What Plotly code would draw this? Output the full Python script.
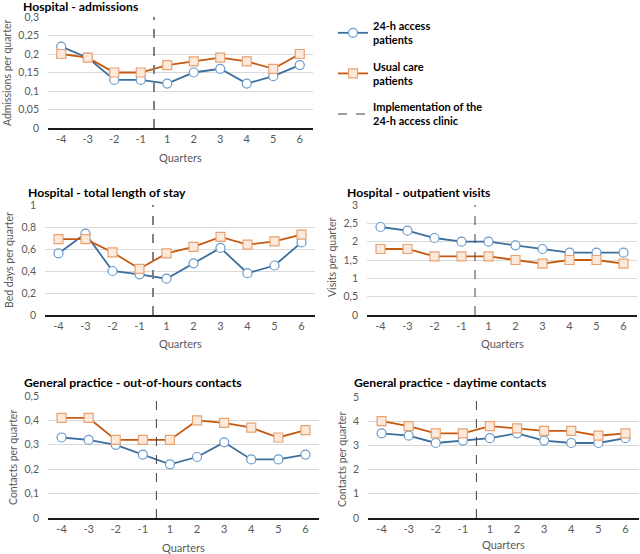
import plotly.graph_objects as go

quarters = ["-4", "-3", "-2", "-1", "1", "2", "3", "4", "5", "6"]

adm_access = [0.22, 0.19, 0.13, 0.13, 0.12, 0.15, 0.16, 0.12, 0.14, 0.17]
adm_usual = [0.20, 0.19, 0.15, 0.15, 0.17, 0.18, 0.19, 0.18, 0.16, 0.20]

los_access = [0.56, 0.74, 0.40, 0.37, 0.33, 0.47, 0.61, 0.38, 0.45, 0.66]
los_usual = [0.69, 0.69, 0.57, 0.42, 0.56, 0.62, 0.71, 0.64, 0.67, 0.73]

out_access = [2.4, 2.3, 2.1, 2.0, 2.0, 1.9, 1.8, 1.7, 1.7, 1.7]
out_usual = [1.8, 1.8, 1.6, 1.6, 1.6, 1.5, 1.4, 1.5, 1.5, 1.4]

ooh_access = [0.33, 0.32, 0.30, 0.26, 0.22, 0.25, 0.31, 0.24, 0.24, 0.26]
ooh_usual = [0.41, 0.41, 0.32, 0.32, 0.32, 0.40, 0.39, 0.37, 0.33, 0.36]

day_access = [3.5, 3.4, 3.1, 3.2, 3.3, 3.5, 3.2, 3.1, 3.1, 3.3]
day_usual = [4.0, 3.8, 3.5, 3.5, 3.8, 3.7, 3.6, 3.6, 3.4, 3.5]

adm_ticks = [0, 0.05, 0.1, 0.15, 0.2, 0.25, 0.3]
adm_ticktext = ["0", "0,05", "0,1", "0,15", "0,2", "0,25", "0,3"]
los_ticks = [0, 0.2, 0.4, 0.6, 0.8, 1]
los_ticktext = ["0", "0,2", "0,4", "0,6", "0,8", "1"]
out_ticks = [0, 0.5, 1, 1.5, 2, 2.5, 3]
out_ticktext = ["0", "0,5", "1", "1,5", "2", "2,5", "3"]
ooh_ticks = [0, 0.1, 0.2, 0.3, 0.4, 0.5]
ooh_ticktext = ["0", "0,1", "0,2", "0,3", "0,4", "0,5"]
day_ticks = [0, 1, 2, 3, 4, 5]
day_ticktext = ["0", "1", "2", "3", "4", "5"]

titles = ["Hospital - admissions", "Hospital - total length of stay",
          "Hospital - outpatient visits", "General practice - out-of-hours contacts",
          "General practice - daytime contacts"]
ytitles = ["Admissions per quarter", "Bed days per quarter", "Visits per quarter",
           "Contacts per quarter", "Contacts per quarter"]
series_names = ["24-h access<br>patients", "Usual care<br>patients",
                "Implementation of the<br>24-h access clinic"]

W, H = 640, 554
FONT = "Lato, Open Sans, sans-serif"
BLUE = "#3C6E9E"
ORANGE = "#C55A11"

panels = [
    dict(a=adm_access, u=adm_usual, tv=adm_ticks, tt=adm_ticktext, px=(48, 313), py=(17, 128),
         dc="#808080", dw=2, t=(21, 6.5), yt=(7, 73), q=157),
    dict(a=los_access, u=los_usual, tv=los_ticks, tt=los_ticktext, px=(45, 315), py=(205, 315),
         dc="#808080", dw=2, t=(26, 192), yt=(9, 260), q=343),
    dict(a=out_access, u=out_usual, tv=out_ticks, tt=out_ticktext, px=(367, 637), py=(205, 315),
         dc="#404040", dw=1, t=(345, 192), yt=(332, 258), q=343),
    dict(a=ooh_access, u=ooh_usual, tv=ooh_ticks, tt=ooh_ticktext, px=(48, 319), py=(396, 518),
         dc="#404040", dw=1, t=(22, 382), yt=(13, 458), q=547),
    dict(a=day_access, u=day_usual, tv=day_ticks, tt=day_ticktext, px=(368, 639), py=(397, 518),
         dc="#404040", dw=1, t=(352, 382), yt=(342, 460), q=544),
]

fig = go.Figure()
annotations = []
shapes = []
for i, p in enumerate(panels):
    n = "" if i == 0 else str(i + 1)
    xa, ya = "x" + n, "y" + n
    first = i == 0
    fig.add_trace(go.Scatter(
        x=quarters, y=p["a"], xaxis=xa, yaxis=ya, mode="lines+markers",
        name="<b>" + series_names[0] + "</b>", showlegend=first, legendgroup="a",
        line=dict(color=BLUE, width=1.8), cliponaxis=False,
        marker=dict(symbol="circle", size=9, color="white", line=dict(color="#6A9ACB", width=1.2))))
    fig.add_trace(go.Scatter(
        x=quarters, y=p["u"], xaxis=xa, yaxis=ya, mode="lines+markers",
        name="<b>" + series_names[1] + "</b>", showlegend=first, legendgroup="b",
        line=dict(color=ORANGE, width=1.8), cliponaxis=False,
        marker=dict(symbol="square", size=9, color="#FBE9DC", line=dict(color="#E9A272", width=1.2))))
    dom_x = [p["px"][0] / W, p["px"][1] / W]
    dom_y = [1 - p["py"][1] / H, 1 - p["py"][0] / H]
    fig.layout["xaxis" + n] = dict(
        domain=dom_x, anchor=ya, type="category", range=[-0.5, 9.5], automargin=False,
        showline=True, linecolor="#1a1a1a", linewidth=1.5, showgrid=False, ticks="",
        tickfont=dict(family=FONT, size=11, color="#595959"), fixedrange=True)
    fig.layout["yaxis" + n] = dict(
        domain=dom_y, anchor=xa, range=[0, p["tv"][-1]], tickvals=p["tv"], ticktext=p["tt"],
        automargin=False,
        showgrid=True, gridcolor="#D9D9D9", gridwidth=1, zeroline=False, showline=False,
        ticks="", ticklabelstandoff=8,
        tickfont=dict(family=FONT, size=10.5, color="#595959"), fixedrange=True)
    shapes.append(dict(type="line", xref=xa, yref=ya + " domain", x0=3.5, x1=3.5, y0=0, y1=1,
                       line=dict(color=p["dc"], width=p["dw"], dash="dash")))
    annotations.append(dict(text="<b>" + titles[i] + "</b>", xref="paper", yref="paper",
                            x=p["t"][0] / W, y=1 - p["t"][1] / H, xanchor="left", yanchor="middle",
                            showarrow=False, font=dict(family=FONT, size=12.2, color="black")))
    annotations.append(dict(text=ytitles[i], xref="paper", yref="paper", textangle=-90,
                            x=p["yt"][0] / W, y=1 - p["yt"][1] / H, xanchor="center", yanchor="middle",
                            showarrow=False, font=dict(family=FONT, size=10.5, color="#595959")))
    annotations.append(dict(text="Quarters", xref="paper", yref="paper",
                            x=(p["px"][0] + p["px"][1]) / 2 / W, y=1 - p["q"] / H,
                            xanchor="center", yanchor="middle",
                            showarrow=False, font=dict(family=FONT, size=11, color="#595959")))

fig.add_trace(go.Scatter(x=[None], y=[None], mode="lines", name="<b>" + series_names[2] + "</b>",
                         legendgroup="c", showlegend=True,
                         line=dict(color="#404040", width=1, dash="dash")))

fig.update_layout(
    width=W, height=H, margin=dict(l=0, r=0, t=0, b=0, autoexpand=False),
    paper_bgcolor="white", plot_bgcolor="white",
    showlegend=True,
    legend=dict(x=333 / W, y=1 - 12 / H, xanchor="left", yanchor="top",
                font=dict(family=FONT, size=11, color="black"), tracegroupgap=9,
                bgcolor="rgba(0,0,0,0)", itemwidth=30),
    annotations=annotations, shapes=shapes,
)
fig.write_html("out.html", config={"displayModeBar": False},
               post_script="document.body.style.margin='0';document.body.style.overflow='hidden';")
